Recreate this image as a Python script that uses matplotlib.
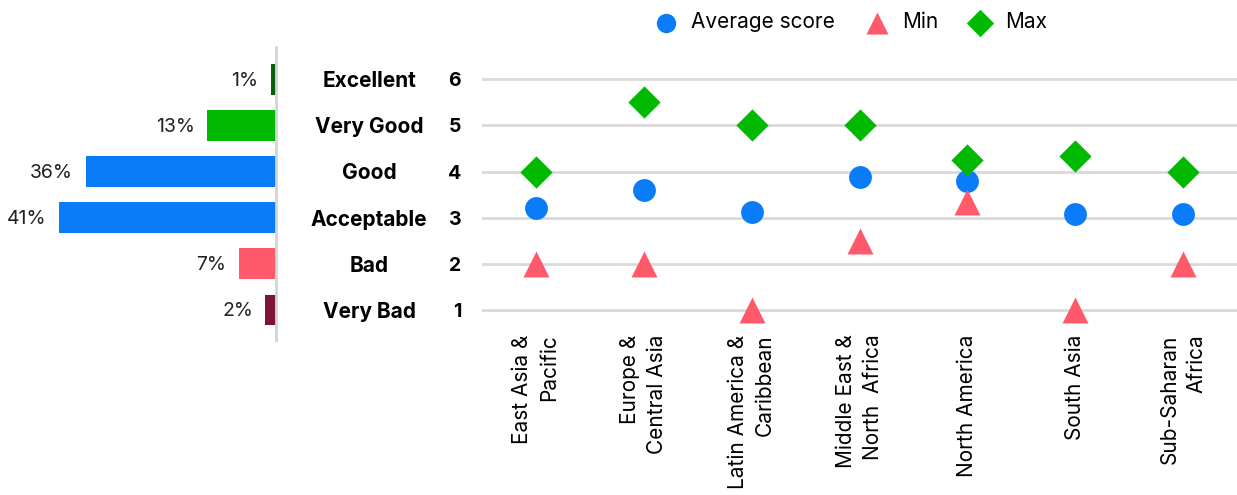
import numpy as np
import matplotlib
matplotlib.use("Agg")
import matplotlib.pyplot as plt

plt.rcParams['font.family'] = ['Inter', 'DejaVu Sans']

#------------------------------------- data -------------------------------------#

ratings = ["Excellent", "Very Good", "Good", "Acceptable", "Bad", "Very Bad"]
rating_score = [6, 5, 4, 3, 2, 1]
rating_share = [1, 13, 36, 41, 7, 2]
rating_colors = ["#0b5e0b", "#00b900", "#0a7cf7", "#0a7cf7", "#ff5a6b", "#7b1437"]

regions = ["East Asia &\nPacific", "Europe &\nCentral Asia", "Latin America &\nCaribbean",
           "Middle East &\nNorth  Africa", "North America", "South Asia", "Sub-Saharan\nAfrica"]
avg_score = [3.22, 3.60, 3.13, 3.88, 3.79, 3.07, 3.07]
min_score = [2, 2, 1, 2.5, 3.33, 1, 2]
max_score = [4, 5.5, 5, 5, 4.25, 4.34, 4]

blue = "#0a7cf7"
pink = "#ff5a6b"
green = "#00b900"

#------------------------------------- figure -------------------------------------#

W, H = 1237, 495
fig = plt.figure(figsize=(W / 100, H / 100), dpi=100)

ylim = (0.35, 6.7)
bottom = (H - 340) / H
height = (340 - 47) / H

# left: share of ratings
ax1 = fig.add_axes([0, bottom, 276 / W, height])
ax1.barh(rating_score, rating_share, height=0.67, color=rating_colors)
ax1.set_xlim(52.2, 0)
ax1.set_ylim(*ylim)
for s in ["top", "bottom", "left"]:
    ax1.spines[s].set_visible(False)
ax1.spines["right"].set_color("#d4d4d4")
ax1.spines["right"].set_linewidth(2)
ax1.set_xticks([])
ax1.set_yticks([])
for y, v in zip(rating_score, rating_share):
    ax1.annotate(str(v) + "%", (v, y), xytext=(-9, -1), textcoords="offset points",
                 ha="right", va="center", fontsize=14, color="#222222")

# right: scores per region
ax2 = fig.add_axes([482 / W, bottom, (W - 482) / W, height])
x = np.arange(len(regions))
ax2.scatter(x, avg_score, s=270, marker="o", color=blue, label="Average score", zorder=3, linewidths=0)
ax2.scatter(x, min_score, s=350, marker="^", color=pink, label="Min", zorder=3, linewidths=0)
ax2.scatter(x, max_score, s=270, marker="D", color=green, label="Max", zorder=3, linewidths=0)
ax2.set_xlim(-0.5, 6.5)
ax2.set_ylim(*ylim)
ax2.set_yticks(rating_score)
ax2.set_yticklabels([str(v) for v in rating_score], fontsize=14, fontweight="bold")
ax2.grid(axis="y", color="#d9d9d9", linewidth=2)
ax2.set_axisbelow(True)
ax2.tick_params(axis="y", length=0, pad=15)
ax2.set_xticks(x)
ax2.set_xticklabels(regions, rotation=90, fontsize=15, multialignment="right", linespacing=1.45)
ax2.tick_params(axis="x", length=0, pad=-4)
for s in ax2.spines.values():
    s.set_visible(False)

for name, y in zip(ratings, rating_score):
    ax2.text((369 - 482) / (W - 482), y - 0.04, name, transform=ax2.get_yaxis_transform(),
             ha="center", va="center", fontsize=15, fontweight="bold")

fig.legend(loc="center", bbox_to_anchor=(846 / W, 1 - 22 / H), ncol=3, frameon=False,
           fontsize=15, markerscale=0.85, handletextpad=0.2, columnspacing=1.0)

plt.savefig("out.png", dpi=100)
